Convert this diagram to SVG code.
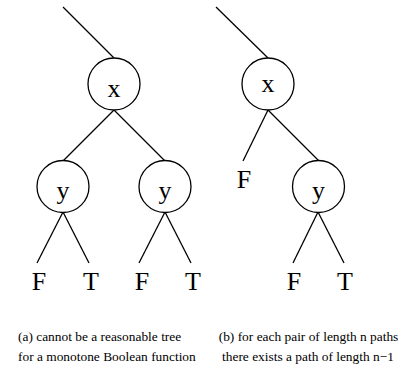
<svg xmlns="http://www.w3.org/2000/svg" width="406" height="372" viewBox="0 0 406 372">
<style>
.e{stroke:#000;stroke-width:1.3;fill:none}
.n{stroke:#000;stroke-width:1.3;fill:#fff}
.l{font-family:"Liberation Serif","Times New Roman",serif;font-size:26px;fill:#000;text-anchor:middle}
.c{font-family:"Liberation Serif","Times New Roman",serif;font-size:13.4px;fill:#000}
</style>
<rect width="406" height="372" fill="#fff"/>
<g id="connectors">
<line class="e" x1="63" y1="7" x2="114" y2="58"/>
<line class="e" x1="114" y1="110" x2="63" y2="161"/>
<line class="e" x1="114" y1="110" x2="165" y2="161"/>
<line class="e" x1="63" y1="212" x2="37" y2="263"/>
<line class="e" x1="63" y1="212" x2="89" y2="263"/>
<line class="e" x1="165" y1="212" x2="139" y2="263"/>
<line class="e" x1="165" y1="212" x2="191" y2="263"/>
<line class="e" x1="216" y1="7" x2="268" y2="58"/>
<line class="e" x1="268" y1="110" x2="243" y2="161"/>
<line class="e" x1="268" y1="110" x2="319" y2="161"/>
<line class="e" x1="318" y1="212" x2="293" y2="263"/>
<line class="e" x1="318" y1="212" x2="344" y2="263"/>
</g>
<g id="a_x"><circle class="n" cx="114" cy="84" r="26"/><text class="l" x="114" y="97">x</text></g>
<g id="a_y1"><circle class="n" cx="63" cy="186.5" r="26"/><text class="l" x="63" y="199">y</text></g>
<g id="a_y2"><circle class="n" cx="165" cy="186.5" r="26"/><text class="l" x="165" y="199">y</text></g>
<g id="a_F1"><text class="l" x="39" y="290">F</text></g>
<g id="a_T1"><text class="l" x="91" y="290">T</text></g>
<g id="a_F2"><text class="l" x="142" y="290">F</text></g>
<g id="a_T2"><text class="l" x="193" y="290">T</text></g>
<g id="b_x"><circle class="n" cx="268" cy="84" r="26"/><text class="l" x="268" y="92">x</text></g>
<g id="b_F0"><text class="l" x="244" y="188">F</text></g>
<g id="b_y"><circle class="n" cx="318.5" cy="186.5" r="26"/><text class="l" x="318.5" y="199">y</text></g>
<g id="b_F1"><text class="l" x="294" y="290">F</text></g>
<g id="b_T1"><text class="l" x="345" y="290">T</text></g>
<g id="captions">
<text class="c" x="18" y="341">(a) cannot be a reasonable tree</text>
<text class="c" x="18" y="361">for a monotone Boolean function</text>
<text class="c" x="308.5" y="341" text-anchor="middle">(b) for each pair of length n paths</text>
<text class="c" x="308" y="361" text-anchor="middle">there exists a path of length n−1</text>
</g>
</svg>
